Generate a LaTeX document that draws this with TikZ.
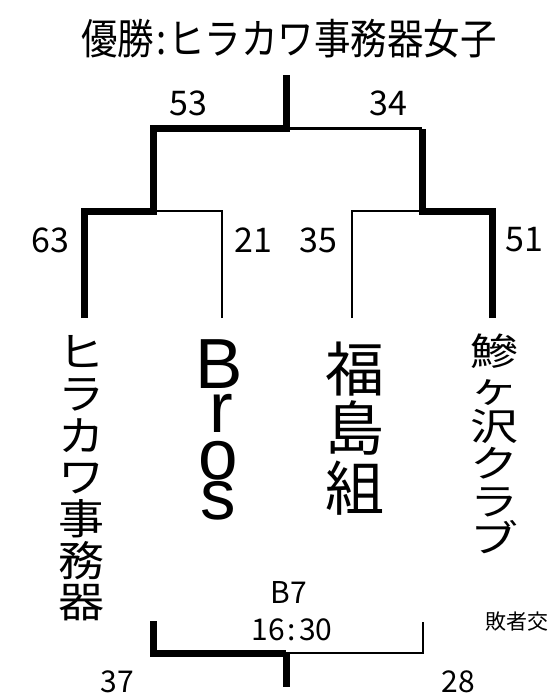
\documentclass[tikz,border=0pt]{standalone}
\usepackage{fontspec}
\setmainfont{Noto Sans CJK JP}
\newfontfamily\latinsans{Liberation Sans}
\newcommand{\jfs}[1]{\fontsize{#1}{#1}\selectfont}
\begin{document}
\begin{tikzpicture}[x=1pt,y=-1pt,
  thickline/.style={line width=7pt, line join=miter, line cap=butt},
  thinline/.style={line width=2.5pt, line join=miter, line cap=butt},
  score/.style={inner sep=0pt, font=\jfs{34}},
  smallscore/.style={inner sep=0pt, font=\jfs{30}},
  vchar/.style={inner sep=0pt, anchor=base},
  broschar/.style={inner sep=0pt, anchor=base, font=\latinsans\fontsize{71}{71}\selectfont}]
\useasboundingbox[fill=white] (0,0) rectangle (549,697);

% title
\node[inner sep=0pt, font=\jfs{36.5}] (title) at (289,39)
  {\scalebox{1}[1.15]{優勝\hspace{2pt}:\hspace{2pt}ヒラカワ事務器女子}};

% bracket coordinates
\coordinate (top) at (286,75);
\coordinate (fc) at (286,128.5);
\coordinate (sl) at (153,128.5);
\coordinate (sr) at (422,128.5);
\coordinate (sl1) at (153,211);
\coordinate (sr1) at (422,211);
\coordinate (a1) at (84,211);
\coordinate (a2) at (222,211);
\coordinate (a3) at (352,211);
\coordinate (a4) at (492,211);
\coordinate (b1) at (84,318);
\coordinate (b2) at (222,318);
\coordinate (b3) at (352,318);
\coordinate (b4) at (492,318);

\draw[thinline] (b2) -- (a2) -- (sl1);
\draw[thinline] (b3) -- (a3) -- (sr1);
\draw[thinline] (fc) -- (sr);
\draw[thickline] (b1) -- (a1) -- (sl1) -- (sl) -- (fc) -- (top);
\draw[thickline] (b4) -- (a4) -- (sr1) -- (sr);

% scores
\node[score] (s53) at (188,103) {53};
\node[score] (s34) at (388,103) {34};
\node[score] (s63) at (50,240) {63};
\node[score] (s21) at (253,240) {21};
\node[score] (s35) at (318,240) {35};
\node[score] (s51) at (524,240) {51};

% team 1: ヒラカワ事務器
\foreach \c [count=\i] in {ヒ,ラ,カ,ワ,事,務,器}
  \node[vchar, font=\jfs{46}] (ta\i) at (81,{331+(\i-1)*41.7+0.88*41.7}) {\scalebox{1}[0.906]{\c}};

% team 2: Bros
\node[broschar] (tbB) at (219,388) {B};
\node[broschar] (tbr) at (221,432) {r};
\node[broschar] (tbo) at (218,479) {o};
\node[broschar] (tbs) at (218,519) {s};

% team 3: 福島組
\foreach \c [count=\i] in {福,島,組}
  \node[vchar, font=\jfs{59}] (tc\i) at (355,{339+(\i-1)*59.5+0.88*59.5}) {\c};

% team 4: 鰺ヶ沢クラブ
\foreach \c [count=\i] in {鰺,ヶ,沢,ク,ラ,ブ}
  \node[vchar, font=\jfs{48}] (td\i) at (494,{332+(\i-1)*37.5+0.88*37.5}) {\scalebox{1}[0.78]{\c}};

% consolation match
\node[inner sep=0pt, font=\jfs{30}] (b7) at (289,592) {B7};
\node[inner sep=0pt, font=\jfs{30}] (time) at (292,630) {16\hspace{3pt}:\hspace{3pt}30};
\node[inner sep=0pt, anchor=west, font=\jfs{21}] (loser) at (485,622) {敗者交};

\coordinate (cl) at (153,621);
\coordinate (clb) at (153,653);
\coordinate (cm) at (286,653);
\coordinate (cmb) at (286,687);
\coordinate (cr) at (423,622);
\coordinate (crb) at (423,653);
\draw[thinline] (cm) -- (crb) -- (cr);
\draw[thickline] (cl) -- (clb) -- (cm);
\draw[thickline] (cm) -- (cmb);

\node[smallscore] (s37) at (117,682) {37};
\node[smallscore] (s28) at (458,682) {28};
\end{tikzpicture}
\end{document}
